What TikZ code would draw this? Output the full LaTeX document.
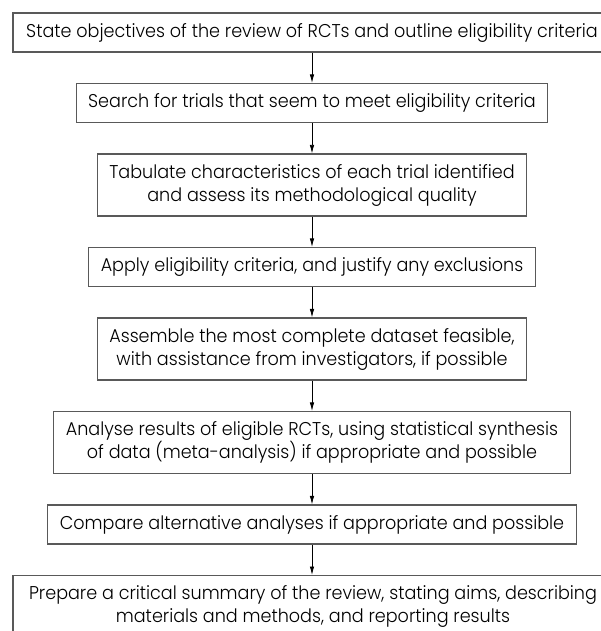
\documentclass[tikz,border=0pt]{standalone}
\usepackage{fontspec}
\setmainfont{Poppins Light}[FakeStretch=0.95]
\usetikzlibrary{arrows.meta}
\tikzset{
  stepbox/.style={draw=black!65, line width=1.1pt, inner xsep=12pt, inner ysep=0pt,
    align=center, font=\fontsize{18.5}{23}\selectfont},
  flow/.style={draw=black, line width=0.8pt, -{Latex[length=8.5pt,width=4.5pt]}}
}
\begin{document}
\begin{tikzpicture}[x=1pt,y=-1pt]
\useasboundingbox (0,0) rectangle (601,631);
\node[stepbox, minimum height=39, minimum width=598] (n1) at (312,32.5)
  {State objectives of the review of RCTs and outline eligibility criteria};
\node[stepbox, minimum height=39] (n2) at (312,103)
  {Search for trials that seem to meet eligibility criteria};
\node[stepbox, minimum height=62] (n3) at (312,185)
  {Tabulate characteristics of each trial identified\\and assess its methodological quality};
\node[stepbox, minimum height=39] (n4) at (312,267)
  {Apply eligibility criteria, and justify any exclusions};
\node[stepbox, minimum height=62] (n5) at (312,349)
  {Assemble the most complete dataset feasible,\\with assistance from investigators, if possible};
\node[stepbox, minimum height=62] (n6) at (312,442.5)
  {Analyse results of eligible RCTs, using statistical synthesis\\of data (meta-analysis) if appropriate and possible};
\node[stepbox, minimum height=39] (n7) at (312,524.5)
  {Compare alternative analyses if appropriate and possible};
\node[stepbox, minimum height=62, minimum width=600, anchor=north] (n8) at (313,575)
  {Prepare a critical summary of the review, stating aims, describing\\materials and methods, and reporting results};
\draw[flow] (n1) -- (n2);
\draw[flow] (n2) -- (n3);
\draw[flow] (n3) -- (n4);
\draw[flow] (n4) -- (n5);
\draw[flow] (n5) -- (n6);
\draw[flow] (n6) -- (n7);
\draw[flow] (n7.south) -- (n7.south |- n8.north);
\end{tikzpicture}
\end{document}
